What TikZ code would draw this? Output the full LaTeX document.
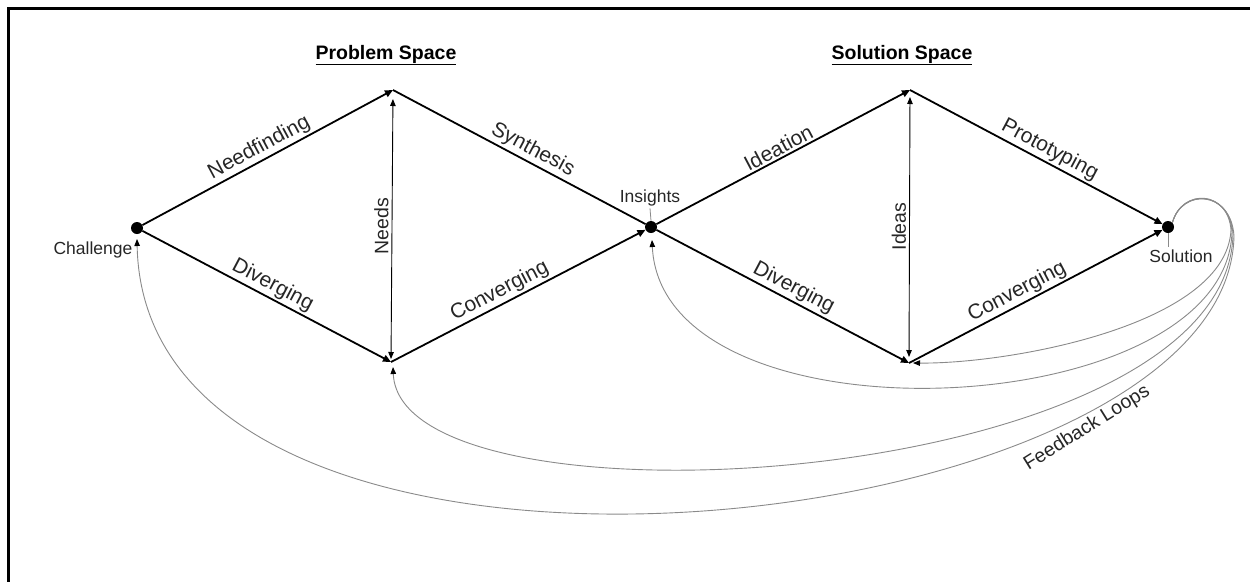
\documentclass[tikz,border=0pt]{standalone}
\usepackage{fontspec}
\setmainfont{Liberation Sans}
\usetikzlibrary{arrows.meta,calc}
\definecolor{fbgray}{HTML}{8A8A8A}
\definecolor{txt}{HTML}{262626}
\begin{document}
\begin{tikzpicture}[x=1pt,y=-1pt,
  main/.style={line width=1.8pt, -{Triangle[length=8pt,width=7pt]}},
  plain/.style={line width=1.8pt},
  twoway/.style={line width=0.9pt, {Triangle[length=7pt,width=5.5pt]}-{Triangle[length=7pt,width=5.5pt]}},
  fb/.style={draw=fbgray, line width=0.9pt, -{Triangle[length=7pt,width=5.5pt,color=black]}},
  dot/.style={circle, fill=black, inner sep=0pt, minimum size=12pt},
  lbl/.style={font=\fontsize{21}{24}\selectfont, text=txt, inner sep=2pt},
  vlbl/.style={font=\fontsize{19.5}{22}\selectfont, text=txt, inner sep=3pt},
  plbl/.style={font=\fontsize{17.5}{20}\selectfont, text=txt, inner sep=2pt},
  ttl/.style={font=\fontsize{19.5}{22}\selectfont\bfseries, text=black},
  leader/.style={draw=fbgray, line width=0.8pt}]
\useasboundingbox (0,0) rectangle (1250,582);
\draw[line width=3pt] (1250,8) -- (8,8) -- (8,582);

% titles
\node[ttl] (pt) at (386,55) {\underline{Problem Space}};
\node[ttl] (st) at (902,55) {\underline{Solution Space}};

% points
\node[dot] (C) at (137,228) {};
\node[dot] (I) at (651,227) {};
\node[dot] (S) at (1168,227) {};
\coordinate (T1) at (393,90);
\coordinate (B1) at (391,362);
\coordinate (T2) at (910,90);
\coordinate (B2) at (909,363);
\coordinate (Cfb) at (137,239);
\coordinate (B1fb) at (393,367);
\coordinate (Ifb) at (652,240);
\coordinate (B2fb) at (913,363);

% diamonds
\draw[main] (C) -- node[lbl, sloped, above, pos=0.49] {Needfinding} (T1);
\draw[main] (C) -- node[lbl, sloped, above, pos=0.5] {Diverging} (B1);
\draw[plain] (T1) -- node[lbl, sloped, above, pos=0.53] {Synthesis} (I);
\draw[main] (B1) -- node[lbl, sloped, above, pos=0.45] {Converging} (I);
\draw[main] (I) -- node[lbl, sloped, above] {Ideation} (T2);
\draw[main] (I) -- node[lbl, sloped, above, pos=0.52] {Diverging} (B2);
\draw[main] (T2) -- node[lbl, sloped, above, pos=0.53] {Prototyping} (S);
\draw[main] (B2) -- node[lbl, sloped, above, pos=0.45] {Converging} (S);

% vertical arrows
\draw[twoway, shorten <=3pt, shorten >=9pt] (B1) -- node[vlbl, rotate=90, above, pos=0.5] {Needs} (T1);
\draw[twoway, shorten <=6pt, shorten >=7pt] (B2) -- node[vlbl, rotate=90, above, pos=0.5] {Ideas} (T2);

% point labels
\node[plbl] (Cl) at (93,250) {Challenge};
\node[plbl] (Il) at (650,198) {Insights};
\node[plbl] (Sl) at (1181,256) {Solution};
\draw[leader] (Il.south) -- (I.north);
\draw[leader] (S.south) -- (Sl.north -| S.south);

% feedback loops
\draw[fb] (S.north east) .. controls (1182,188) and (1228,190) .. (1231,230)
  .. controls (1226,325) and (1010,364) .. (B2fb);
\draw[fb] (S.north east) .. controls (1182,188) and (1229,190) .. (1232,232)
  .. controls (1226,425) and (662,450) .. (Ifb);
\draw[fb] (S.north east) .. controls (1182,188) and (1230,190) .. (1233,234)
  .. controls (1228,490) and (400,540) .. (B1fb);
\draw[fb] (S.north east) .. controls (1182,188) and (1231,190) .. (1234,236)
  .. controls (1228,545) and (145,660) .. (Cfb);
\node[vlbl, rotate=32] (fl) at (1087,428) {Feedback Loops};
\end{tikzpicture}
\end{document}
